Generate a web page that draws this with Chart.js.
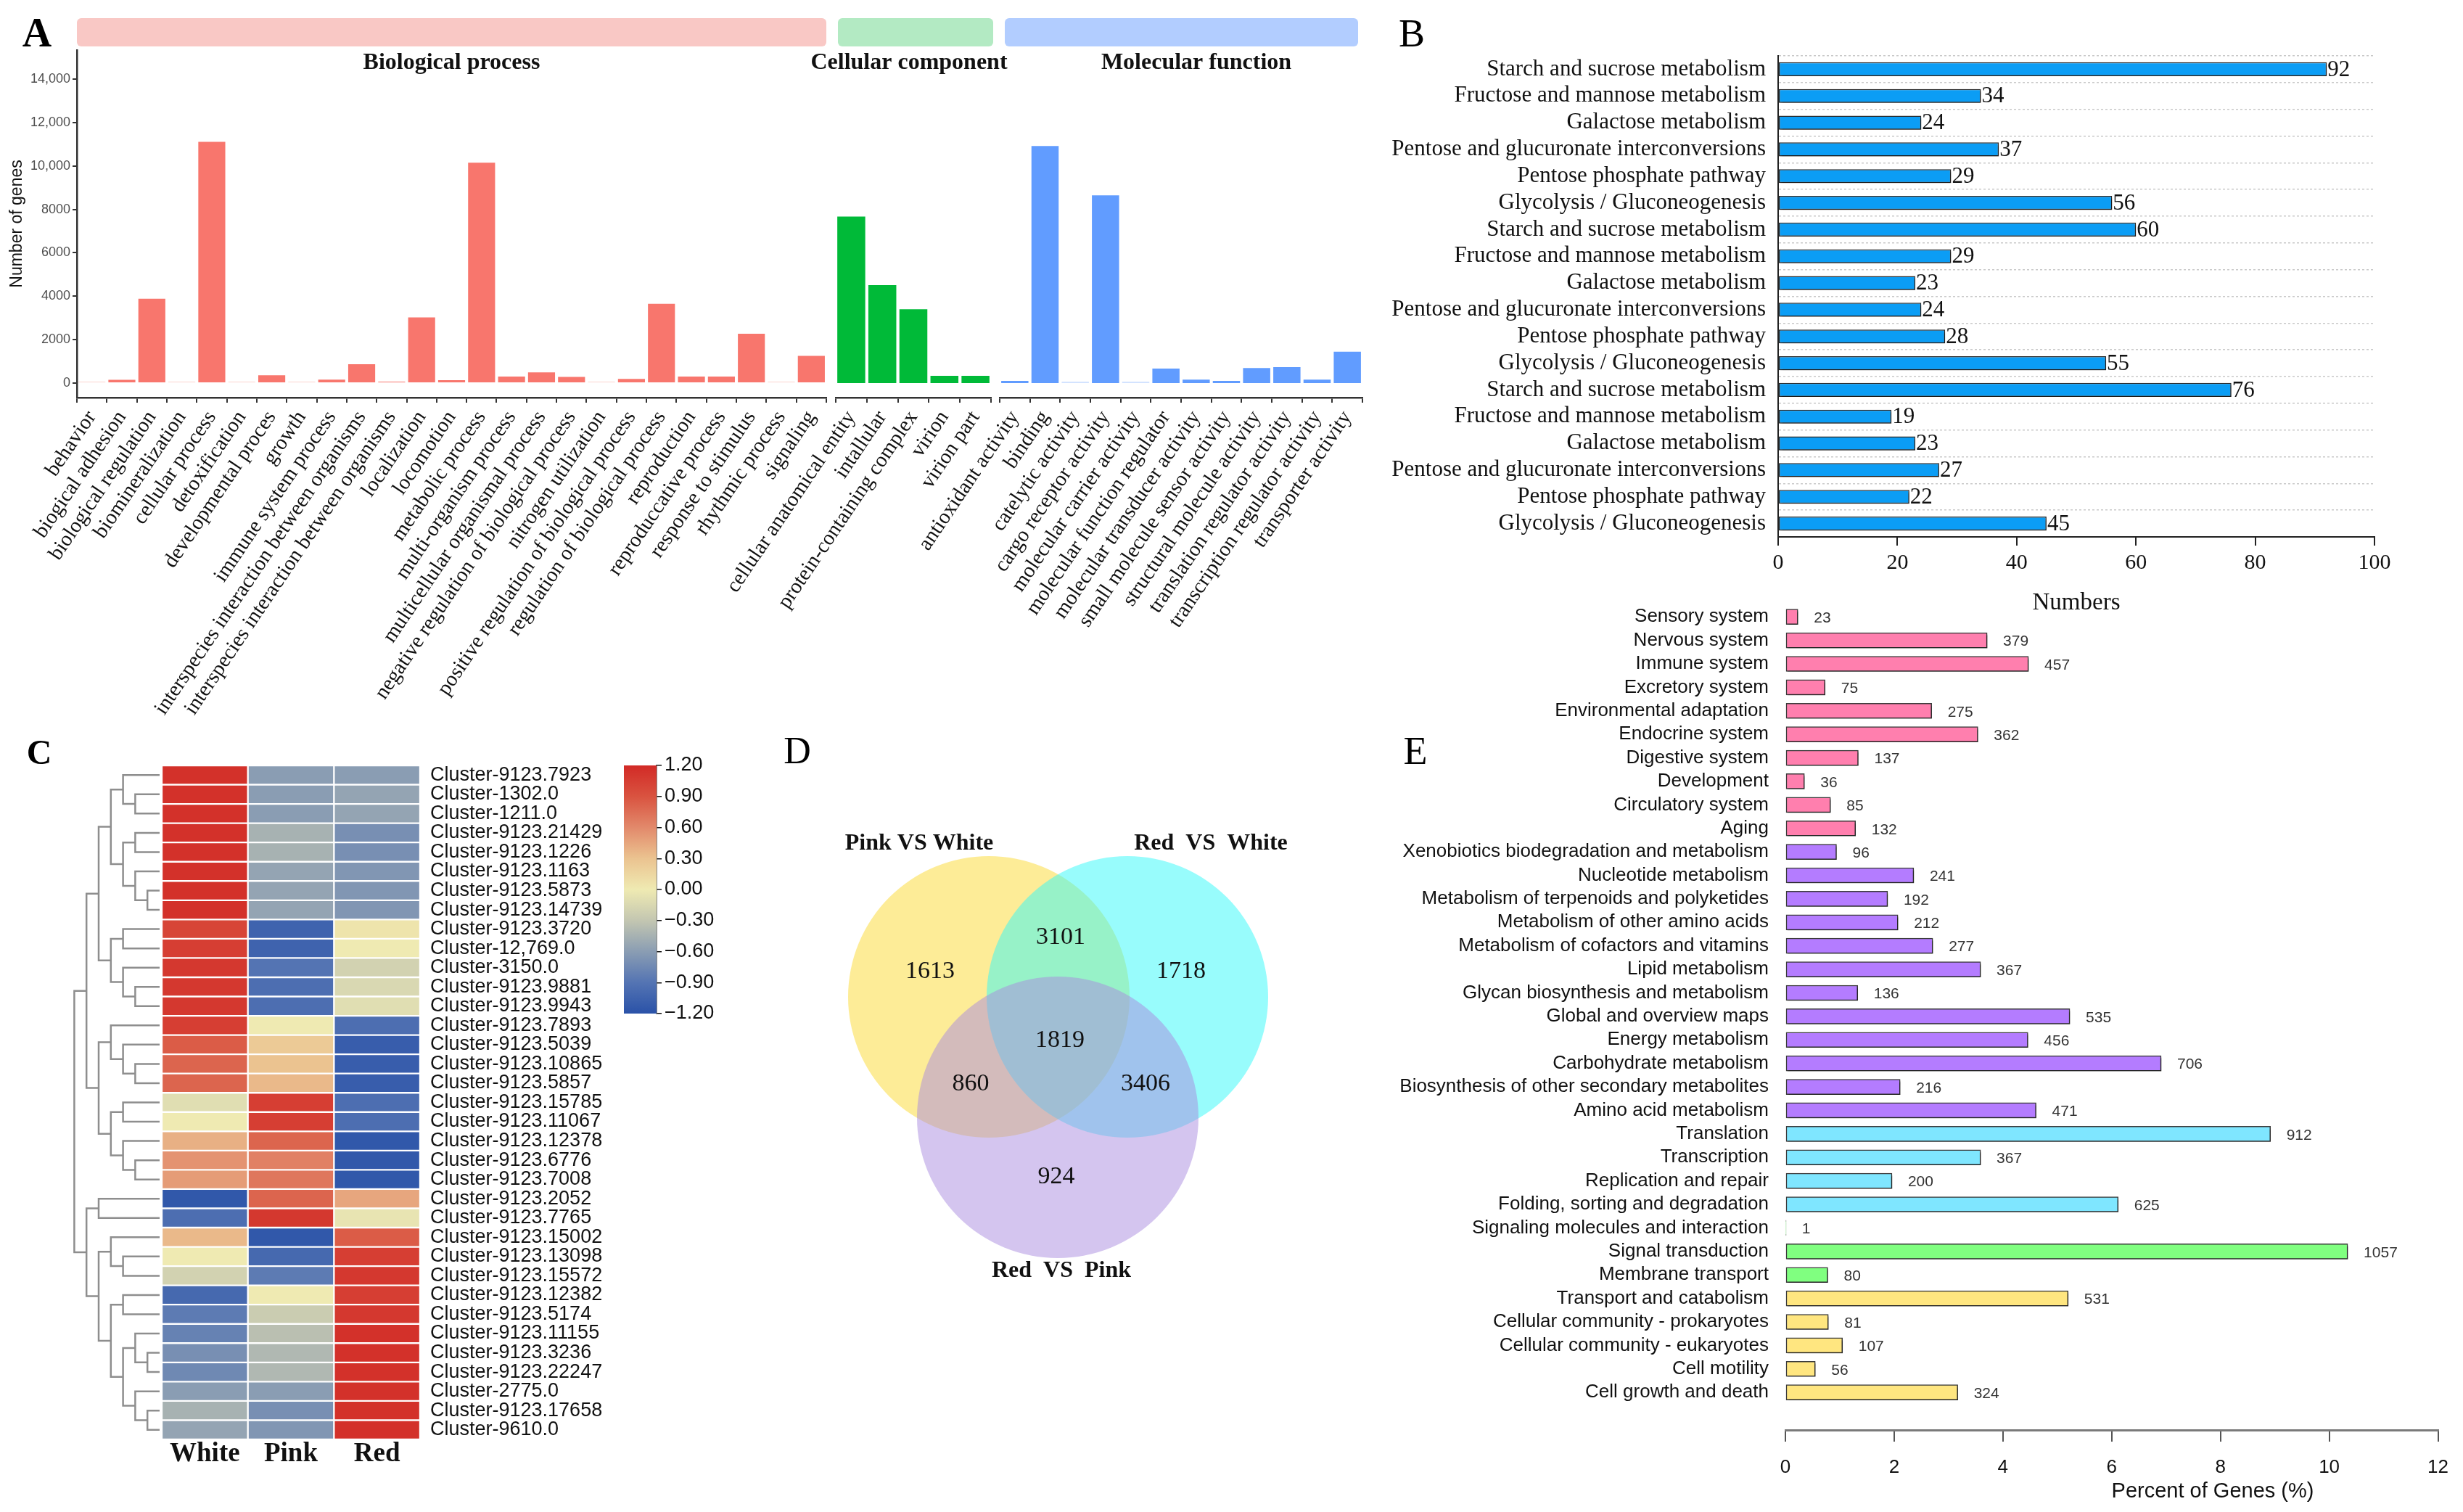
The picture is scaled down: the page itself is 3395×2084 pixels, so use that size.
<!DOCTYPE html>
<html>
<head>
<meta charset="utf-8">
<script src="https://cdn.jsdelivr.net/npm/chart.js"></script>
<style>
  body { margin: 0; background: #fff; }
  #fig { position: relative; width: 3395px; height: 2084px; overflow: hidden; background: #fff; }
  .box { position: absolute; }
  .txt { position: absolute; transform: translate(-50%, -50%); line-height: 1; white-space: nowrap; color: #000; }
  .serif { font-family: 'Liberation Serif', 'Times New Roman', serif; }
  .sans { font-family: 'Liberation Sans', Arial, sans-serif; }
</style>
</head>
<body>
<div id="fig">
  <div class="box" style="left:0;top:0;width:1170px;height:1000px"><canvas id="goBio"></canvas></div>
  <div class="box" style="left:652px;top:0;width:754px;height:1000px"><canvas id="goCell"></canvas></div>
  <div class="box" style="left:878px;top:0;width:1040px;height:1000px"><canvas id="goMol"></canvas></div>
  <div class="box" style="left:1900px;top:0;width:1495px;height:860px"><canvas id="kegg"></canvas></div>
  <div class="box" style="left:1850px;top:764px;width:1545px;height:1320px"><canvas id="ko"></canvas></div>
  <div class="box" style="left:0;top:1020px;width:850px;height:1064px"><canvas id="heat"></canvas></div>
  <div class="box" style="left:850px;top:1033px;width:160px;height:387px"><canvas id="cbar"></canvas></div>
  <div class="box" style="left:1050px;top:1000px;width:800px;height:800px"><canvas id="venn"></canvas></div>

  <div class="txt serif" style="left:51px;top:45px;font-size:56px;font-weight:bold">A</div>
  <div class="txt serif" style="left:1946px;top:46px;font-size:54px">B</div>
  <div class="txt serif" style="left:54px;top:1037px;font-size:48px;font-weight:bold">C</div>
  <div class="txt serif" style="left:1099px;top:1035px;font-size:52px">D</div>
  <div class="txt serif" style="left:1951px;top:1035px;font-size:54px">E</div>
  <div class="txt sans" style="left:3050px;top:2054px;font-size:29px;color:#111">Percent of Genes (%)</div>
</div>

<script>
// ---- A: GO classification ----
const goBioLabels = ['behavior', 'biogical adhesion', 'biological regulation', 'biomineralization', 'cellular process',
  'detoxification', 'developmental proces', 'growth', 'immune system process',
  'interspecies interaction between organisms', 'interspecies interaction between organisms',
  'localization', 'locomotion', 'metabolic process', 'multi-organism process', 'multicellular organismal process',
  'negative regulation of biological process', 'nitrogen utilization', 'positive regulation of biological process',
  'regulation of biological process', 'reproduction', 'reproduccative process', 'response to stimulus',
  'rhythmic process', 'signaling'];
const goBioCounts = [15, 150, 3880, 15, 11110, 15, 360, 15, 155, 870, 60, 3020, 130, 10150, 300, 490, 280,
  15, 190, 3650, 300, 300, 2270, 15, 1250];
const goCellLabels = ['cellular anatomical entity', 'intallular', 'protein-containing complex', 'virion', 'virion part'];
const goCellCounts = [7670, 4510, 3400, 330, 330];
const goMolLabels = ['antioxidant activity', 'binding', 'catelytic activity', 'cargo receptor activity',
  'molecular carrier activity', 'molecular function regulator', 'molecular transducer activity',
  'small molecule sensor activity', 'structural molecule activity', 'translation regulator activity',
  'transcription regulator activity', 'transporter activity'];
const goMolCounts = [100, 10920, 15, 8650, 15, 670, 155, 95, 690, 730, 155, 1440];
const goYTicks = [0, 2000, 4000, 6000, 8000, 10000, 12000, 14000];

// ---- B: KEGG enrichment ----
const keggLabels = ['Starch and sucrose metabolism', 'Fructose and mannose metabolism', 'Galactose metabolism',
  'Pentose and glucuronate interconversions', 'Pentose phosphate pathway', 'Glycolysis / Gluconeogenesis',
  'Starch and sucrose metabolism', 'Fructose and mannose metabolism', 'Galactose metabolism',
  'Pentose and glucuronate interconversions', 'Pentose phosphate pathway', 'Glycolysis / Gluconeogenesis',
  'Starch and sucrose metabolism', 'Fructose and mannose metabolism', 'Galactose metabolism',
  'Pentose and glucuronate interconversions', 'Pentose phosphate pathway', 'Glycolysis / Gluconeogenesis'];
const keggCounts = [92, 34, 24, 37, 29, 56, 60, 29, 23, 24, 28, 55, 76, 19, 23, 27, 22, 45];

// ---- C: heatmap ----
const clusterNames = ['Cluster-9123.7923', 'Cluster-1302.0', 'Cluster-1211.0', 'Cluster-9123.21429',
  'Cluster-9123.1226', 'Cluster-9123.1163', 'Cluster-9123.5873', 'Cluster-9123.14739', 'Cluster-9123.3720',
  'Cluster-12,769.0', 'Cluster-3150.0', 'Cluster-9123.9881', 'Cluster-9123.9943', 'Cluster-9123.7893',
  'Cluster-9123.5039', 'Cluster-9123.10865', 'Cluster-9123.5857', 'Cluster-9123.15785', 'Cluster-9123.11067',
  'Cluster-9123.12378', 'Cluster-9123.6776', 'Cluster-9123.7008', 'Cluster-9123.2052', 'Cluster-9123.7765',
  'Cluster-9123.15002', 'Cluster-9123.13098', 'Cluster-9123.15572', 'Cluster-9123.12382', 'Cluster-9123.5174',
  'Cluster-9123.11155', 'Cluster-9123.3236', 'Cluster-9123.22247', 'Cluster-2775.0', 'Cluster-9123.17658',
  'Cluster-9610.0'];
const heatSamples = ['White', 'Pink', 'Red'];
const heatWhite = [1.15, 1.15, 1.15, 1.15, 1.15, 1.15, 1.15, 1.15, 1.0, 1.05, 1.1, 1.1, 1.1, 1.05, 0.85, 0.8, 0.8,
  -0.1, 0.0, 0.4, 0.55, 0.5, -1.15, -0.95, 0.35, 0.0, -0.2, -1.0, -0.85, -0.8, -0.7, -0.75, -0.6, -0.45, -0.55];
const heatPink = [-0.6, -0.6, -0.6, -0.45, -0.45, -0.55, -0.55, -0.55, -1.05, -1.05, -0.9, -0.95, -0.95, 0.0, 0.25,
  0.3, 0.35, 1.05, 1.05, 0.8, 0.65, 0.7, 0.8, 1.1, -1.15, -1.0, -0.85, 0.0, -0.25, -0.35, -0.4, -0.4, -0.6, -0.7, -0.65];
const heatRed = [-0.6, -0.55, -0.55, -0.7, -0.7, -0.65, -0.65, -0.65, 0.05, 0.0, -0.2, -0.15, -0.1, -0.95, -1.1,
  -1.1, -1.1, -0.95, -0.95, -1.15, -1.15, -1.15, 0.45, -0.05, 0.85, 1.05, 1.1, 1.05, 1.1, 1.15, 1.15, 1.15, 1.15,
  1.15, 1.15];
const heatStops = [[-1.2, '#2a52a8'], [-0.9, '#5474b3'], [-0.6, '#8a9db3'], [-0.3, '#c3c6b1'], [0, '#efeab2'],
  [0.3, '#ebc390'], [0.6, '#e2896b'], [0.9, '#d95340'], [1.2, '#d22a26']];
const colorbarTicks = [-1.2, -0.9, -0.6, -0.3, 0, 0.3, 0.6, 0.9, 1.2];
// row clustering: [height, left, right], leaves are row indexes
const dendroTree = [7,
  [6,
    [5,
      [4, [3, 0, [2, 1, 2]], [3, [2, 3, 4], [2, 5, [1, 6, 7]]]],
      [4, [3, 8, 9], [3, 10, [2, 11, 12]]]],
    [5,
      [4, 13, [3, 14, [2, 15, 16]]],
      [4, [3, 17, 18], [3, 19, [2, 20, 21]]]]],
  [6,
    [5, 22, 23],
    [5,
      [4, 24, [3, 25, 26]],
      [4, [3, 27, 28], [3, [2, 29, [1, 30, 31]], [2, 32, [1, 33, 34]]]]]]];

// ---- D: Venn ----
const vennNames = ['Pink VS White', 'Red  VS  White', 'Red  VS  Pink'];
const vennCounts = [1613, 3101, 1718, 1819, 860, 3406, 924];

// ---- E: KEGG classification ----
const koNames = ['Sensory system', 'Nervous system', 'Immune system', 'Excretory system', 'Environmental adaptation',
  'Endocrine system', 'Digestive system', 'Development', 'Circulatory system', 'Aging',
  'Xenobiotics biodegradation and metabolism', 'Nucleotide metabolism', 'Metabolism of terpenoids and polyketides',
  'Metabolism of other amino acids', 'Metabolism of cofactors and vitamins', 'Lipid metabolism',
  'Glycan biosynthesis and metabolism', 'Global and overview maps', 'Energy metabolism', 'Carbohydrate metabolism',
  'Biosynthesis of other secondary metabolites', 'Amino acid metabolism', 'Translation', 'Transcription',
  'Replication and repair', 'Folding, sorting and degradation', 'Signaling molecules and interaction',
  'Signal transduction', 'Membrane transport', 'Transport and catabolism', 'Cellular community - prokaryotes',
  'Cellular community - eukaryotes', 'Cell motility', 'Cell growth and death'];
const koCounts = [23, 379, 457, 75, 275, 362, 137, 36, 85, 132, 96, 241, 192, 212, 277, 367, 136, 535, 456, 706,
  216, 471, 912, 367, 200, 625, 1, 1057, 80, 531, 81, 107, 56, 324];
const koPercent = [0.23, 3.71, 4.47, 0.73, 2.69, 3.54, 1.34, 0.35, 0.83, 1.29, 0.94, 2.36, 1.88, 2.07, 2.71, 3.59,
  1.33, 5.23, 4.46, 6.91, 2.11, 4.61, 8.92, 3.59, 1.96, 6.12, 0.01, 10.34, 0.78, 5.20, 0.79, 1.05, 0.55, 3.17];
const koGroup = ['org', 'org', 'org', 'org', 'org', 'org', 'org', 'org', 'org', 'org',
  'met', 'met', 'met', 'met', 'met', 'met', 'met', 'met', 'met', 'met', 'met', 'met',
  'gen', 'gen', 'gen', 'gen', 'env', 'env', 'env', 'cel', 'cel', 'cel', 'cel', 'cel'];

const SERIF = "'Liberation Serif', 'Times New Roman', serif";
const SANS = "'Liberation Sans', Arial, sans-serif";
const koColors = { org: '#ff7fae', met: '#b47cff', gen: '#7fe6ff', env: '#80ff80', cel: '#ffe680' };

Chart.defaults.animation = false;
Chart.defaults.events = [];
Chart.defaults.responsive = true;
Chart.defaults.maintainAspectRatio = false;
Chart.defaults.plugins.legend.display = false;
Chart.defaults.plugins.tooltip.enabled = false;
Chart.defaults.font.family = SANS;
Chart.defaults.color = '#111';

// facet strip with its label above each GO panel
const stripPlugin = {
  id: 'strip',
  beforeDraw(chart, args, o) {
    const { ctx, chartArea: a } = chart;
    ctx.save();
    ctx.fillStyle = o.fill;
    ctx.beginPath();
    ctx.roundRect(a.left + o.x0, 25, a.right - a.left - o.x0 + o.x1, 39, 6);
    ctx.fill();
    ctx.fillStyle = '#111';
    ctx.font = 'bold 32px ' + SERIF;
    ctx.textAlign = 'center';
    ctx.textBaseline = 'middle';
    ctx.fillText(o.text, (a.left + a.right) / 2 + o.dx, 87);
    ctx.restore();
  }
};

const shadowPlugin = {
  id: 'shadow',
  beforeDatasetsDraw(chart) {
    const c = chart.ctx;
    c.save();
    c.shadowColor = 'rgba(0,0,0,0.38)';
    c.shadowBlur = 2;
    c.shadowOffsetX = 2;
    c.shadowOffsetY = 3;
  },
  afterDatasetsDraw(chart) { chart.ctx.restore(); }
};

const valuePlugin = {
  id: 'barValues',
  afterDatasetsDraw(chart, args, o) {
    const { ctx } = chart;
    const meta = chart.getDatasetMeta(0);
    const vals = o.values;
    ctx.save();
    ctx.font = o.font;
    ctx.fillStyle = o.color;
    ctx.textAlign = 'left';
    ctx.textBaseline = 'middle';
    meta.data.forEach((bar, i) => ctx.fillText(String(vals[i]), bar.x + o.gap, bar.y + o.dy));
    ctx.restore();
  }
};

function goFacet(id, labels, counts, color, pale, strip, showY, padLeft, padRight) {
  return new Chart(document.getElementById(id), {
    type: 'bar',
    data: {
      labels,
      datasets: [{
        data: counts,
        backgroundColor: c => c.raw < 30 ? pale : color,
        barPercentage: 0.9, categoryPercentage: 1, minBarLength: 2
      }]
    },
    options: {
      layout: { padding: { left: padLeft, right: padRight, top: 69, bottom: 0 } },
      plugins: { strip },
      scales: {
        x: {
          offset: true,
          grid: { drawOnChartArea: false, color: '#333', lineWidth: 2, tickLength: 7 },
          border: { color: '#333', width: 2.5 },
          ticks: { autoSkip: false, minRotation: 56, maxRotation: 56, padding: 5, color: '#111',
            font: { family: SERIF, size: 29 } },
          afterFit: s => { s.height = 452; }
        },
        y: {
          display: showY, min: -670, max: 15340,
          afterBuildTicks: s => { s.ticks = goYTicks.map(v => ({ value: v })); s.min = -670; s.max = 15340; },
          ticks: { padding: 3, color: '#4d4d4d', font: { size: 18 },
            callback: v => v >= 10000 ? v.toLocaleString('en-US') : String(v) },
          grid: { drawOnChartArea: false, color: '#333', lineWidth: 2, tickLength: 6 },
          border: { color: '#333', width: 2.5 },
          title: { display: true, text: 'Number of genes', color: '#111', font: { size: 23 },
            padding: { top: 10, bottom: 0 } },
          afterFit: s => { if (showY) s.width = 106; }
        }
      }
    },
    plugins: [stripPlugin]
  });
}

goFacet('goBio', goBioLabels, goBioCounts, '#F8766D', '#fbd3cf',
  { fill: '#f9c8c5', text: 'Biological process', x0: 0, x1: 0, dx: 0 }, true, 0, 31);
goFacet('goCell', goCellLabels, goCellCounts, '#00BA38', '#bfeecb',
  { fill: '#b3eac3', text: 'Cellular component', x0: 3, x1: 3, dx: -6 }, false, 500, 40);
goFacet('goMol', goMolLabels, goMolCounts, '#619CFF', '#d3e3ff',
  { fill: '#b2cdff', text: 'Molecular function', x0: 7, x1: -6, dx: 21 }, false, 500, 40);

// B
new Chart(document.getElementById('kegg'), {
  type: 'bar',
  data: {
    labels: keggLabels,
    datasets: [{
      data: keggCounts, backgroundColor: '#0b9df5', borderColor: '#2a2a2a', borderWidth: 1.5,
      borderSkipped: false, barPercentage: 0.52, categoryPercentage: 1
    }]
  },
  options: {
    indexAxis: 'y',
    layout: { padding: { left: 0, top: 77, right: 122, bottom: 0 } },
    plugins: { barValues: { values: keggCounts, font: '31px ' + SERIF, color: '#111', gap: 1, dy: 1 } },
    scales: {
      x: {
        min: 0, max: 100,
        ticks: { stepSize: 20, padding: 6, color: '#111', font: { family: SERIF, size: 30 } },
        grid: { drawOnChartArea: false, color: '#222', lineWidth: 2, tickLength: 12 },
        border: { color: '#222', width: 2 },
        title: { display: true, text: 'Numbers', color: '#111', font: { family: SERIF, size: 33 },
          padding: { top: 0, bottom: 9 } },
        afterFit: s => { s.height = 120; }
      },
      y: {
        ticks: { autoSkip: false, padding: 17, color: '#111', font: { family: SERIF, size: 31 } },
        grid: { color: '#c9c9c9', lineWidth: 1.5, drawTicks: false },
        border: { color: '#222', width: 2, dash: [3, 3] },
        afterFit: s => { s.width = 551; }
      }
    }
  },
  plugins: [shadowPlugin, valuePlugin]
});

// E: rows on a linear index axis so the x axis can sit below a gap
new Chart(document.getElementById('ko'), {
  type: 'bar',
  data: {
    datasets: [{
      data: koPercent.map((v, i) => ({ x: v, y: i })),
      backgroundColor: c => koColors[koGroup[c.dataIndex]],
      borderColor: '#3a3a3a', borderWidth: 1.5, borderSkipped: false, barThickness: 21
    }]
  },
  options: {
    indexAxis: 'y',
    layout: { padding: { left: 0, top: 70, right: 27, bottom: 0 } },
    plugins: { barValues: { values: koCounts, font: '21px ' + SANS, color: '#333', gap: 22, dy: 2 } },
    scales: {
      x: {
        type: 'linear', min: 0, max: 12,
        ticks: { stepSize: 2, padding: 20, color: '#111', font: { size: 26 } },
        grid: { drawOnChartArea: false, color: '#555', lineWidth: 2, tickLength: 16 },
        border: { color: '#7a7a7a', width: 3 },
        afterFit: s => { s.height = 113; }
      },
      y: {
        type: 'linear', reverse: true, offset: false, min: -0.5, max: 34.6,
        afterBuildTicks: s => { s.ticks = koNames.map((n, i) => ({ value: i })); s.min = -0.5; s.max = 34.6; },
        ticks: { autoSkip: false, padding: 23, color: '#111', font: { size: 26, lineHeight: 1 },
          callback: v => koNames[v] ?? '' },
        grid: { display: false, drawTicks: false },
        border: { display: false },
        afterFit: s => { s.width = 611; }
      }
    }
  },
  plugins: [shadowPlugin, valuePlugin]
});

// C heatmap
const heatRgb = heatStops.map(([v, h]) => [v, parseInt(h.slice(1, 3), 16), parseInt(h.slice(3, 5), 16), parseInt(h.slice(5, 7), 16)]);
function heatColor(z) {
  z = Math.max(-1.2, Math.min(1.2, z));
  for (let i = 1; i < heatRgb.length; i++) {
    const a = heatRgb[i - 1], b = heatRgb[i];
    if (z <= b[0]) {
      const t = (z - a[0]) / (b[0] - a[0]);
      return `rgb(${Math.round(a[1] + t * (b[1] - a[1]))},${Math.round(a[2] + t * (b[2] - a[2]))},${Math.round(a[3] + t * (b[3] - a[3]))})`;
    }
  }
  return heatStops[heatStops.length - 1][1];
}

const dendroPlugin = {
  id: 'dendro',
  afterDraw(chart) {
    const { ctx, chartArea, scales: { y } } = chart;
    const hx = h => chartArea.left - 3 - h * 16.8;
    ctx.save();
    ctx.strokeStyle = '#8e8e8e';
    ctx.lineWidth = 2.5;
    const walk = node => {
      if (typeof node === 'number') return { y: y.getPixelForValue(node), h: 0 };
      const [h, l, r] = node;
      const A = walk(l), B = walk(r), X = hx(h);
      ctx.beginPath();
      ctx.moveTo(hx(A.h), A.y);
      ctx.lineTo(X, A.y);
      ctx.lineTo(X, B.y);
      ctx.lineTo(hx(B.h), B.y);
      ctx.stroke();
      return { y: (A.y + B.y) / 2, h };
    };
    walk(dendroTree);
    ctx.restore();
  }
};

new Chart(document.getElementById('heat'), {
  type: 'bar',
  data: {
    labels: clusterNames,
    datasets: [heatWhite, heatPink, heatRed].map((vals, k) => ({
      label: heatSamples[k],
      data: clusterNames.map(() => 1),
      backgroundColor: c => heatColor(vals[c.dataIndex]),
      borderColor: '#ffffff', borderWidth: 1.5, borderSkipped: false,
      barPercentage: 1, categoryPercentage: 1
    }))
  },
  options: {
    indexAxis: 'y',
    layout: { padding: { left: 223, top: 35, right: 0, bottom: 0 } },
    scales: {
      x: {
        stacked: true, min: 0, max: 3,
        grid: { display: false, drawTicks: false }, border: { display: false },
        afterBuildTicks: s => { s.ticks = [0.5, 1.5, 2.5].map(v => ({ value: v })); },
        ticks: { padding: 2, color: '#111', font: { family: SERIF, size: 37, weight: 'bold', lineHeight: 1 },
          callback: (v, i) => heatSamples[i] },
        afterFit: s => { s.height = 100; }
      },
      y: {
        stacked: true, position: 'right',
        grid: { display: false, drawTicks: false }, border: { display: false },
        ticks: { autoSkip: false, padding: 14, color: '#111', font: { size: 27 } },
        afterFit: s => { s.width = 271; }
      }
    }
  },
  plugins: [dendroPlugin]
});

// colour key
const gradientPlugin = {
  id: 'cbar',
  beforeDatasetsDraw(chart) {
    const { ctx, chartArea: a, scales: { y } } = chart;
    const g = ctx.createLinearGradient(0, y.getPixelForValue(y.min), 0, y.getPixelForValue(y.max));
    heatStops.forEach(([v, col]) => g.addColorStop((v - y.min) / (y.max - y.min), col));
    ctx.save();
    ctx.fillStyle = g;
    ctx.fillRect(a.left, a.top, a.right - a.left, a.bottom - a.top);
    ctx.restore();
  }
};

new Chart(document.getElementById('cbar'), {
  type: 'scatter',
  data: { datasets: [{ data: [] }] },
  options: {
    layout: { padding: { left: 10, top: 22, right: 0, bottom: 23 } },
    scales: {
      x: { display: false, min: 0, max: 1 },
      y: {
        position: 'right', min: -1.2, max: 1.2,
        afterBuildTicks: s => { s.ticks = colorbarTicks.map(v => ({ value: v })); },
        ticks: { padding: 4, color: '#111', font: { size: 27 },
          callback: v => (v < -1e-9 ? '\u2212' : '') + Math.abs(v).toFixed(2) },
        grid: { drawOnChartArea: false, color: '#111', lineWidth: 1.5, tickLength: 7 },
        border: { color: '#111', width: 1.5 },
        afterFit: s => { s.width = 105; }
      }
    }
  },
  plugins: [gradientPlugin]
});

// D Venn (layout in canvas units, 1 unit = 1 px)
const VENN_R = 194;
const vennCentres = [{ x: 313, y: 374 }, { x: 504, y: 374 }, { x: 408, y: 540 }];
const vennFill = ['rgba(251,217,47,0.5)', 'rgba(49,249,249,0.5)', 'rgba(169,139,223,0.5)'];
const vennCountPos = [[232, 339], [412, 292], [578, 339], [411, 434], [288, 494], [529, 494], [406, 622]];
const vennNamePos = [[217, 163], [619, 163], [413, 752]];

const vennTextPlugin = {
  id: 'vennText',
  afterDatasetsDraw(chart) {
    const { ctx, scales: { x, y } } = chart;
    ctx.save();
    ctx.fillStyle = '#111';
    ctx.textAlign = 'center';
    ctx.textBaseline = 'middle';
    ctx.font = '34px ' + SERIF;
    vennCounts.forEach((n, i) => ctx.fillText(String(n), x.getPixelForValue(vennCountPos[i][0]), y.getPixelForValue(vennCountPos[i][1])));
    ctx.font = 'bold 32px ' + SERIF;
    vennNames.forEach((n, i) => ctx.fillText(n, x.getPixelForValue(vennNamePos[i][0]), y.getPixelForValue(vennNamePos[i][1])));
    ctx.restore();
  }
};

new Chart(document.getElementById('venn'), {
  type: 'bubble',
  data: {
    datasets: [{
      data: vennCentres,
      backgroundColor: vennFill,
      borderWidth: 0,
      radius: VENN_R,
      hoverRadius: 0
    }]
  },
  options: {
    layout: { padding: 0, autoPadding: false },
    clip: false,
    scales: {
      x: { display: false, min: 0, max: 800 },
      y: { display: false, min: 0, max: 800, reverse: true }
    }
  },
  plugins: [vennTextPlugin]
});
</script>
</body>
</html>
